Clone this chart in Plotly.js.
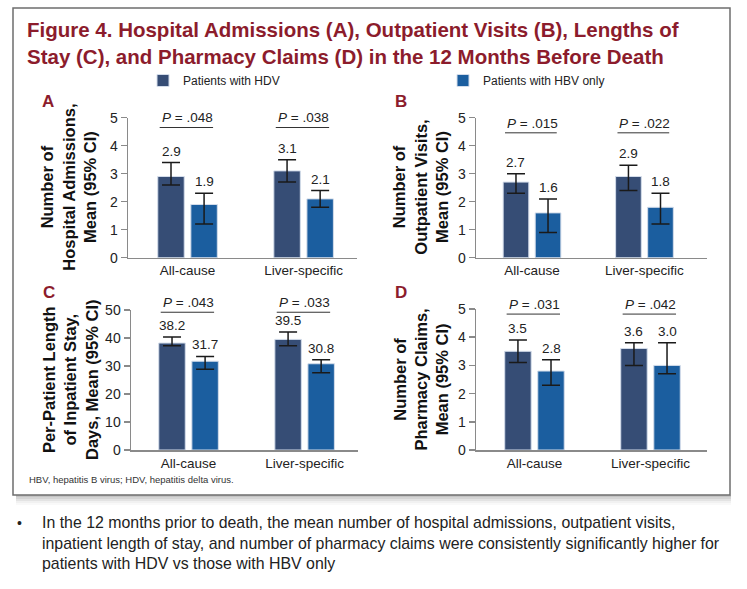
<!DOCTYPE html>
<html>
<head>
<meta charset="utf-8">
<script src="https://cdn.plot.ly/plotly-3.0.1.min.js"></script>
<style>
html,body{margin:0;padding:0;background:#fff;}
#chart{width:747px;height:589px;}
</style>
</head>
<body>
<div id="chart"></div>
<script>
// ---------------- DATA ----------------
const categories = ["All-cause", "Liver-specific"];
const seriesNames = ["Patients with HDV", "Patients with HBV only"];

// A: Hospital admissions
const admHDV = [2.9, 3.1];
const admHDVLow = [2.6, 2.7];
const admHDVHigh = [3.4, 3.5];
const admHBV = [1.9, 2.1];
const admHBVLow = [1.2, 1.8];
const admHBVHigh = [2.3, 2.4];
const admP = [".048", ".038"];

// B: Outpatient visits
const outHDV = [2.7, 2.9];
const outHDVLow = [2.3, 2.4];
const outHDVHigh = [3.0, 3.3];
const outHBV = [1.6, 1.8];
const outHBVLow = [0.9, 1.2];
const outHBVHigh = [2.1, 2.3];
const outP = [".015", ".022"];

// C: Length of inpatient stay (days)
const losHDV = [38.2, 39.5];
const losHDVLow = [37.2, 37.2];
const losHDVHigh = [40.4, 42.1];
const losHBV = [31.7, 30.8];
const losHBVLow = [28.8, 27.6];
const losHBVHigh = [33.4, 32.2];
const losP = [".043", ".033"];

// D: Pharmacy claims
const phHDV = [3.5, 3.6];
const phHDVLow = [3.1, 3.0];
const phHDVHigh = [3.9, 3.8];
const phHBV = [2.8, 3.0];
const phHBVLow = [2.3, 2.7];
const phHBVHigh = [3.2, 3.8];
const phP = [".031", ".042"];

const yTickMaxSmall = 5;
const yTickMaxLarge = 50;

// ---------------- LAYOUT HELPERS ----------------
const W = 747, H = 589;
const fx = p => p / W;
const fy = p => 1 - p / H;

const COL_HDV = "#364D75";
const COL_HBV = "#1B5E9F";
const DARKRED = "#8C1C2C";
const TXT = "#222222";
const AXC = "#8a8a8a";
const FONT = "Liberation Sans, Arial, sans-serif";

const BARGAP = 0.43;
const BAROFF = (1 - BARGAP) / 4;

const panels = [
  {letter: "A", hdv: admHDV, hdvLo: admHDVLow, hdvHi: admHDVHigh, hbv: admHBV, hbvLo: admHBVLow, hbvHi: admHBVHigh, p: admP,
   title: "Number of<br>Hospital Admissions,<br>Mean (95% CI)", ymax: yTickMaxSmall, dtick: 1,
   xd: [128, 357], yd: [117.7, 257.7], xr: [-0.513, 1.46], pLine: 4.65, titleX: 69, letterXY: [40, 102]},
  {letter: "B", hdv: outHDV, hdvLo: outHDVLow, hdvHi: outHDVHigh, hbv: outHBV, hbvLo: outHBVLow, hbvHi: outHBVHigh, p: outP,
   title: "Number of<br>Outpatient Visits,<br>Mean (95% CI)", ymax: yTickMaxSmall, dtick: 1,
   xd: [476, 707], yd: [117.7, 257.7], xr: [-0.498, 1.556], pLine: 4.46, titleX: 421, letterXY: [393, 102]},
  {letter: "C", hdv: losHDV, hdvLo: losHDVLow, hdvHi: losHDVHigh, hbv: losHBV, hbvLo: losHBVLow, hbvHi: losHBVHigh, p: losP,
   title: "Per-Patient Length<br>of Inpatient Stay,<br>Days, Mean (95% CI)", ymax: yTickMaxLarge, dtick: 10,
   xd: [131, 358], yd: [310, 450], xr: [-0.496, 1.46], pLine: 49.2, titleX: 70, letterXY: [41, 293]},
  {letter: "D", hdv: phHDV, hdvLo: phHDVLow, hdvHi: phHDVHigh, hbv: phHBV, hbvLo: phHBVLow, hbvHi: phHBVHigh, p: phP,
   title: "Number of<br>Pharmacy Claims,<br>Mean (95% CI)", ymax: yTickMaxSmall, dtick: 1,
   xd: [476, 707], yd: [309, 450], xr: [-0.504, 1.487], pLine: 4.82, titleX: 421, letterXY: [393, 292]}
];

const traces = [];
const annotations = [];
const shapes = [];
const layout = {
  width: W, height: H,
  margin: {l: 0, r: 0, t: 0, b: 0},
  paper_bgcolor: "#ffffff",
  plot_bgcolor: "rgba(0,0,0,0)",
  barmode: "group",
  bargap: BARGAP,
  bargroupgap: 0.2,
  font: {family: FONT, color: TXT, size: 13},
  title: {
    text: "Figure 4. Hospital Admissions (A), Outpatient Visits (B), Lengths of<br>Stay (C), and Pharmacy Claims (D) in the 12 Months Before Death",
    font: {family: FONT, size: 20.5, color: DARKRED, weight: "bold"},
    xref: "container", yref: "container",
    x: fx(27), xanchor: "left", y: fy(37), yanchor: "top"
  },
  showlegend: true,
  legend: {
    orientation: "h", x: fx(143), xanchor: "left", y: fy(66), yanchor: "top",
    entrywidth: 255, entrywidthmode: "pixels", itemwidth: 30,
    font: {family: FONT, size: 12, color: TXT}, bgcolor: "rgba(0,0,0,0)", traceorder: "normal"
  }
};

const sym = (v, lo, hi) => ({
  type: "data", symmetric: false,
  array: v.map((m, i) => +(hi[i] - m).toFixed(3)),
  arrayminus: v.map((m, i) => +(m - lo[i]).toFixed(3)),
  color: "#1a1a1a", thickness: 1.5, width: 9
});

panels.forEach((pn, k) => {
  const n = k + 1;
  const xid = n === 1 ? "x" : "x" + n;
  const yid = n === 1 ? "y" : "y" + n;
  const xkey = n === 1 ? "xaxis" : "xaxis" + n;
  const ykey = n === 1 ? "yaxis" : "yaxis" + n;

  traces.push({
    type: "bar", x: categories, y: pn.hdv, name: seriesNames[0], legendgroup: "hdv", showlegend: k === 0,
    xaxis: xid, yaxis: yid,
    marker: {color: COL_HDV, line: {color: "#d3dcea", width: 1}},
    error_y: sym(pn.hdv, pn.hdvLo, pn.hdvHi), hoverinfo: "skip"
  });
  traces.push({
    type: "bar", x: categories, y: pn.hbv, name: seriesNames[1], legendgroup: "hbv", showlegend: k === 0,
    xaxis: xid, yaxis: yid,
    marker: {color: COL_HBV, line: {color: "#d3dcea", width: 1}},
    error_y: sym(pn.hbv, pn.hbvLo, pn.hbvHi), hoverinfo: "skip"
  });

  layout[xkey] = {
    domain: [fx(pn.xd[0]), fx(pn.xd[1])], range: pn.xr, type: "category", anchor: yid,
    showline: true, linecolor: AXC, linewidth: 1.5, ticks: "", showgrid: false, zeroline: false,
    tickfont: {family: FONT, size: 13.5, color: TXT}, fixedrange: true, automargin: false
  };
  layout[ykey] = {
    domain: [fy(pn.yd[1]), fy(pn.yd[0])], range: [0, pn.ymax], dtick: pn.dtick, tick0: 0, anchor: xid,
    showline: true, linecolor: AXC, linewidth: 1.5, ticks: "outside", ticklen: 6, tickcolor: AXC, tickwidth: 1.5,
    showgrid: false, zeroline: false, tickfont: {family: FONT, size: 14, color: TXT}, fixedrange: true, automargin: false
  };

  // axis title (rotated, three lines)
  annotations.push({
    xref: "paper", yref: "paper", x: fx(pn.titleX), y: fy((pn.yd[0] + pn.yd[1]) / 2),
    xanchor: "center", yanchor: "middle", textangle: -90, showarrow: false,
    text: pn.title, font: {family: FONT, size: 16.5, color: "#111", weight: "bold"}
  });
  // panel letter
  annotations.push({
    xref: "paper", yref: "paper", x: fx(pn.letterXY[0]), y: fy(pn.letterXY[1]),
    xanchor: "left", yanchor: "middle", showarrow: false,
    text: pn.letter, font: {family: FONT, size: 17, color: DARKRED, weight: "bold"}
  });

  // value labels
  [[pn.hdv, pn.hdvHi, -BAROFF], [pn.hbv, pn.hbvHi, BAROFF]].forEach(([vals, hi, off]) => {
    vals.forEach((v, i) => {
      annotations.push({
        xref: xid, yref: yid, x: i + off, y: hi[i], xanchor: "center", yanchor: "bottom", yshift: 2,
        showarrow: false, text: v.toFixed(1), font: {family: FONT, size: 13.5, color: TXT}
      });
    });
  });

  // P values with line
  pn.p.forEach((pv, i) => {
    annotations.push({
      xref: xid, yref: yid, x: i, y: pn.pLine, xanchor: "center", yanchor: "bottom", yshift: 0,
      showarrow: false, text: "<i>P</i> = " + pv, font: {family: FONT, size: 13.5, color: TXT}
    });
    shapes.push({
      type: "line", xref: xid, yref: yid, x0: i - 0.24, x1: i + 0.22, y0: pn.pLine, y1: pn.pLine,
      line: {color: "#333", width: 1}
    });
  });
});

// frame and shadow
[0.30, 0.22, 0.14, 0.07, 0.03].forEach((op, j) => {
  shapes.push({
    type: "rect", xref: "paper", yref: "paper", layer: "below",
    x0: fx(16), x1: fx(731), y0: fy(497 + 2 * j), y1: fy(495 + 2 * j),
    line: {width: 0}, fillcolor: "rgba(60,60,60," + op + ")"
  });
});
shapes.push({
  type: "rect", xref: "paper", yref: "paper", layer: "below",
  x0: fx(13), x1: fx(730), y0: fy(495), y1: fy(8),
  line: {color: "#6e6e6e", width: 1.5}, fillcolor: "#ffffff"
});

// footnote
annotations.push({
  xref: "paper", yref: "paper", x: fx(27), y: fy(479), xanchor: "left", yanchor: "middle", showarrow: false,
  text: "HBV, hepatitis B virus; HDV, hepatitis delta virus.", font: {family: FONT, size: 9.5, color: "#333"}
});
// bullet
annotations.push({
  xref: "paper", yref: "paper", x: fx(15), y: fy(523), xanchor: "left", yanchor: "middle", showarrow: false,
  text: "•", font: {family: FONT, size: 14, color: TXT}
});
annotations.push({
  xref: "paper", yref: "paper", x: fx(40), y: fy(512), xanchor: "left", yanchor: "top", align: "left", showarrow: false,
  text: "In the 12 months prior to death, the mean number of hospital admissions, outpatient visits,<br>inpatient length of stay, and number of pharmacy claims were consistently significantly higher for<br>patients with HDV vs those with HBV only",
  font: {family: FONT, size: 15.9, color: TXT}
});

layout.annotations = annotations;
layout.shapes = shapes;

Plotly.newPlot("chart", traces, layout, {displayModeBar: false, staticPlot: true});
</script>
</body>
</html>
